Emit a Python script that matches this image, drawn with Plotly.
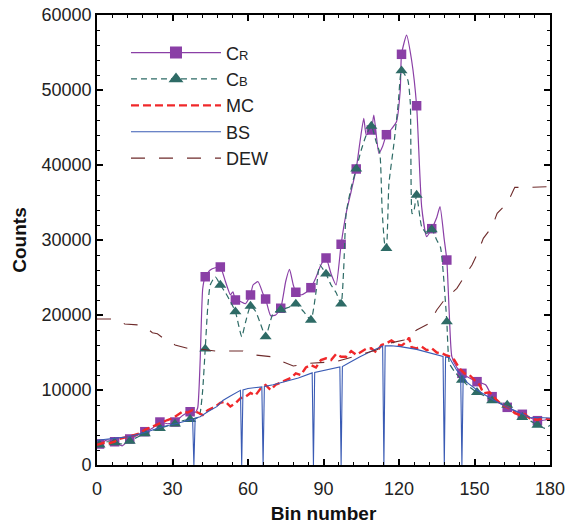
import plotly.graph_objects as go

# ---------------- data ----------------
cr_bins = [0, 1, 4, 7, 10, 13, 16, 19, 22, 25, 28, 31, 34, 37, 39, 40, 41, 42, 43, 45, 47, 49,
           51, 53, 54, 55, 57, 59, 61, 62, 64, 66, 67, 69, 71, 73, 75, 76.5, 78, 79, 81, 83, 85,
           87, 89, 91, 93, 95, 97, 99, 101, 103, 104.5, 106, 107, 109, 110, 112, 113.5, 115,
           117, 119, 120.5, 121, 123, 125, 127, 129, 131, 133, 135, 136.3, 138, 139, 140, 141,
           143, 145, 148, 151, 154.5, 157, 160, 163, 166.5, 169, 172, 175, 178, 180]
cr_vals = [2700, 2800, 3350, 3100, 2550, 3470, 3950, 4440, 4900, 5730, 5500, 5730, 6600, 7100,
           7000, 7600, 14000, 23500, 25100, 26000, 26300, 26400, 24500, 22700, 23100, 22000,
           21800, 21500, 22670, 24000, 24440, 22800, 22130, 19900, 20000, 20900, 24500, 26100,
           24000, 23030, 22670, 23000, 23640, 25000, 26700, 27600, 25500, 24000, 29430, 33560,
           36500, 39470, 43100, 46220, 44000, 44670, 46670, 41560, 42500, 44040, 44800, 45770,
           50000, 54760, 57330, 54000, 47900, 34440, 30440, 31510, 33000, 34440, 30000, 27330,
           20000, 14440, 13000, 12220, 11600, 11110, 10670, 9110, 8220, 7690, 7110, 6760, 6300,
           5910, 6000, 6200]

cb_bins = [0, 1, 4, 7, 10, 13, 16, 19, 22, 25, 28, 31, 34, 37, 40, 41, 42, 43, 44, 45, 47, 49,
           51, 53, 55, 57.5, 59, 61, 63, 65, 67, 70, 73, 76, 79, 82, 85, 87, 88.5, 91, 93, 95,
           97, 98, 99, 101, 103, 105, 107, 109, 111, 112.4, 113.3, 114.3, 115, 116, 118, 119.7,
           121, 123.5, 124.5, 125.2, 126, 127, 129, 131, 133, 135, 136.5, 137.6, 139, 140, 142,
           145, 148, 151, 154, 157, 160, 163, 166, 169, 172, 175, 178, 180]
cb_vals = [2600, 2700, 3100, 3000, 2800, 3200, 3700, 4200, 4600, 4890, 5200, 5470, 5900, 6090,
           6300, 7000, 10000, 15470, 21000, 24000, 25100, 24000, 23000, 21800, 20440, 17110,
           19000, 21200, 20500, 18800, 17110, 20220, 20700, 21000, 21470, 20500, 19330, 23000,
           26670, 25470, 24000, 23000, 21470, 26000, 33560, 37000, 39470, 42000, 44000, 45200,
           43000, 41560, 34000, 29500, 28900, 37500, 42890, 48220, 52580, 51330, 48220, 33500,
           34000, 36000, 31780, 30890, 31400, 30000, 29000, 25560, 19110, 13560, 12500, 11330,
           10400, 9690, 9200, 8580, 8300, 8000, 7000, 6360, 5900, 5330, 4890, 5300]

marker_bins = [1, 7, 13, 19, 25, 31, 37, 43, 49, 55, 61, 67, 73, 79, 85, 91, 97, 103, 109, 115,
               121, 127, 133, 139, 145, 151, 157, 163, 169, 175]
cr_marker_vals = [2800, 3100, 3470, 4440, 5730, 5730, 7100, 25100, 26400, 22000, 22670, 22130,
                  20900, 23030, 23640, 27600, 29430, 39470, 44670, 44040, 54760, 47900, 31510,
                  27330, 12220, 11110, 9110, 7690, 6760, 5910]
cb_marker_vals = [2700, 3000, 3200, 4200, 4890, 5470, 6090, 15470, 24000, 20440, 21200, 17110,
                  20700, 21470, 19330, 25470, 21470, 39470, 45200, 28900, 52580, 36000, 31400,
                  19110, 11330, 9690, 8580, 8000, 6360, 5330]

mc_bins = [0, 3, 5, 7, 9, 12, 14, 17, 19, 22, 24, 26, 28, 30, 32, 34, 36, 38, 40, 42, 44, 47, 49,
           51, 53, 55, 57, 59, 61, 63, 65, 67, 69, 71, 73, 75, 77, 79, 81, 83, 85, 87, 89, 91, 93,
           95, 97, 99, 101, 103, 105, 107, 109, 111, 113, 115, 117, 119, 121, 123, 124, 125, 127,
           129, 131, 133, 135, 137, 139, 140.5, 142, 144, 146, 148, 150, 152, 153.5, 156, 158.8,
           161, 164, 166, 168, 170, 172, 175, 177, 180]
mc_vals = [2700, 3000, 2900, 3110, 3500, 3690, 3900, 4220, 4700, 5110, 5400, 5780, 6000, 6220,
           6700, 7110, 7000, 7330, 7000, 6670, 7300, 7780, 8300, 8440, 7800, 8220, 8900, 9110,
           9600, 9300, 10200, 10670, 10000, 10700, 11000, 11330, 11600, 12220, 12000, 13000,
           13330, 13000, 14000, 14220, 14000, 14800, 14440, 14440, 15200, 14700, 15110, 15500,
           15560, 15000, 16000, 16220, 16600, 16130, 15900, 16440, 17000, 15700, 15560, 15800,
           15300, 15560, 15000, 14890, 14600, 14440, 14000, 12890, 12220, 12000, 11330, 10700,
           9560, 9700, 8670, 8000, 7560, 6900, 6670, 6800, 6220, 6000, 6200, 6090]

bs_bins = [0, 5, 10, 13, 20, 26, 32, 37, 38, 38.5, 39, 41, 44, 47.6, 50, 53, 56.8, 57, 57.5, 58,
           60, 65.5, 66, 66.5, 70, 75, 80, 85.5, 86, 86.5, 90, 96.5, 97, 97.5, 100, 104.5, 110,
           113.5, 114, 114.5, 117, 120.5, 127, 133.5, 137.5, 138, 138.5, 140, 143, 144.5, 145,
           145.5, 147, 151, 157.5, 164, 172, 180]
bs_vals = [3300, 3500, 3700, 3780, 4440, 5110, 5560, 6000, 6100, 0, 6250, 6440, 7110, 7780, 8600,
           9200, 9900, 9950, 0, 10000, 10200, 10420, 0, 10460, 10700, 11110, 11600, 12280, 0,
           12330, 12600, 13080, 0, 13130, 13600, 14440, 15330, 15850, 0, 15880, 15900, 15780,
           15420, 14890, 14480, 0, 14420, 14300, 12600, 12100, 0, 11900, 11000, 10000, 8670,
           7560, 6360, 6270]

dew_bins = [0, 7, 9, 11, 17, 20, 22, 24, 26, 30, 31, 36, 40, 47, 58, 62, 69, 72, 75, 78, 84, 90,
            95, 102, 107, 111, 116, 122, 127, 132, 135, 138, 143, 147.5, 149, 151.5, 153.5, 157,
            159, 163, 166, 171, 177, 180]
dew_vals = [19470, 19470, 19300, 18800, 18670, 18200, 17640, 17500, 16980, 16300, 16000, 15560,
            15500, 15200, 15200, 14700, 14440, 14000, 13560, 13200, 13560, 13640, 13780, 14440,
            14980, 15330, 16220, 16670, 18000, 18890, 20670, 22000, 23560, 25780, 26670, 28440,
            30220, 31780, 33560, 34890, 37020, 37020, 37110, 37110]

x_ticks = [0, 30, 60, 90, 120, 150, 180]
y_ticks = [0, 10000, 20000, 30000, 40000, 50000, 60000]

# ---------------- styles ----------------
C_CR = "#8a3fa6"
C_CB = "#2e6b66"
C_MC = "#f0282a"
C_BS = "#3a5bb4"
C_DEW = "#6e2b2b"
FONT = "Liberation Sans, Arial, sans-serif"

cr_line = dict(color=C_CR, width=1.2, shape="spline", smoothing=0.5)
cb_line = dict(color=C_CB, width=1.2, dash="6px,4px", shape="spline", smoothing=0.5)
cr_marker = dict(symbol="square", color=C_CR, size=9.5, opacity=1, line=dict(width=0))
cb_marker = dict(symbol="triangle-up", color=C_CB, size=10.5, opacity=1, line=dict(width=0))
cr_marker_leg = dict(symbol="square", color=C_CR, size=12, opacity=1, line=dict(width=0))
cb_marker_leg = dict(symbol="triangle-up", color=C_CB, size=13, opacity=1, line=dict(width=0))

fig = go.Figure()

# CR : line + markers (legend entry via empty trace)
fig.add_trace(go.Scatter(x=cr_bins, y=cr_vals, mode="lines", line=cr_line,
                         showlegend=False, hoverinfo="skip"))
fig.add_trace(go.Scatter(x=marker_bins, y=cr_marker_vals, mode="markers", marker=cr_marker,
                         showlegend=False))
# CB
fig.add_trace(go.Scatter(x=cb_bins, y=cb_vals, mode="lines", line=cb_line,
                         showlegend=False, hoverinfo="skip"))
fig.add_trace(go.Scatter(x=marker_bins, y=cb_marker_vals, mode="markers", marker=cb_marker,
                         showlegend=False))
# MC, BS, DEW
fig.add_trace(go.Scatter(x=mc_bins, y=mc_vals, mode="lines", showlegend=False,
                         line=dict(color=C_MC, width=2.4, dash="8px,4px")))
fig.add_trace(go.Scatter(x=bs_bins, y=bs_vals, mode="lines", showlegend=False,
                         line=dict(color=C_BS, width=1.1)))
fig.add_trace(go.Scatter(x=dew_bins, y=dew_vals, mode="lines", showlegend=False,
                         line=dict(color=C_DEW, width=1.1, dash="14px,14px")))

# legend entries
fig.add_trace(go.Scatter(x=[None], y=[None], mode="lines+markers",
                         name='C<span style="font-size:13px">R</span>',
                         line=dict(color=C_CR, width=1.2), marker=cr_marker_leg))
fig.add_trace(go.Scatter(x=[None], y=[None], mode="lines+markers",
                         name='C<span style="font-size:13px">B</span>',
                         line=dict(color=C_CB, width=1.2, dash="6px,4px"), marker=cb_marker_leg))
fig.add_trace(go.Scatter(x=[None], y=[None], mode="lines", name="MC",
                         line=dict(color=C_MC, width=2.4, dash="8px,4px")))
fig.add_trace(go.Scatter(x=[None], y=[None], mode="lines", name="BS",
                         line=dict(color=C_BS, width=1.1)))
fig.add_trace(go.Scatter(x=[None], y=[None], mode="lines", name="DEW",
                         line=dict(color=C_DEW, width=1.1, dash="14px,14px")))

axis_common = dict(
    showline=True, linecolor="black", linewidth=1.6, mirror="allticks",
    ticks="inside", ticklen=6, tickwidth=1.6, tickcolor="black",
    showgrid=False, zeroline=False, automargin=False,
    tickfont=dict(family=FONT, size=18, color="#222"),
)

fig.update_layout(
    width=567, height=528,
    margin=dict(l=97, r=17, t=15, b=63),
    paper_bgcolor="white", plot_bgcolor="white",
    xaxis=dict(range=[0, 180], tickvals=x_ticks, ticklabelstandoff=7,
               minor=dict(dtick=6, ticks="inside", ticklen=3, tickwidth=1.2, tickcolor="black"),
               title=dict(text="<b>Bin number</b>", standoff=8,
                          font=dict(family=FONT, size=19, color="#111")),
               **axis_common),
    yaxis=dict(range=[0, 60000], tickvals=y_ticks, tickformat="d",
               minor=dict(dtick=2000, ticks="inside", ticklen=3, tickwidth=1.2, tickcolor="black"),
               title=dict(text="<b>Counts</b>", standoff=10,
                          font=dict(family=FONT, size=19, color="#111")),
               **axis_common),
    legend=dict(x=0.064, y=0.957, xanchor="left", yanchor="top",
                bgcolor="rgba(0,0,0,0)", itemwidth=90,
                font=dict(family=FONT, size=18, color="#222")),
    showlegend=True,
)

fig.write_html("out.html", config={"displayModeBar": False},
               post_script="document.body.style.margin='0';document.body.style.overflow='hidden';")
